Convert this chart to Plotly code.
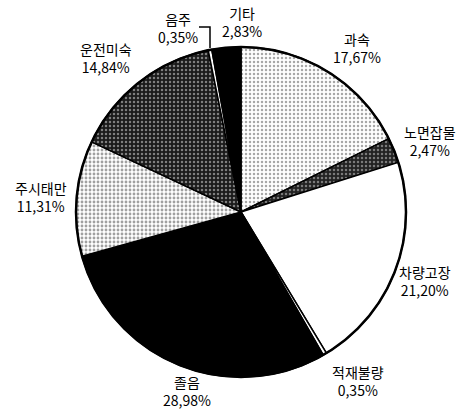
import plotly.graph_objects as go

W, H = 464, 413

categories = ["과속", "노면잡물", "차량고장", "적재불량", "졸음", "주시태만", "운전미숙", "음주", "기타"]
values = [17.67, 2.47, 21.20, 0.35, 28.98, 11.31, 14.84, 0.35, 2.83]

# styling per slice
bg_colors = ["#ffffff", "#222222", "#ffffff", "#ffffff", "#000000", "#ffffff", "#1a1a1a", "#ffffff", "#000000"]
fg_colors = ["#a8a8a8", "#7a7a7a", "#ffffff", "#ffffff", "#000000", "#a0a0a0", "#7e7e7e", "#ffffff", "#000000"]
shapes = [".", ".", "", "", "", ".", ".", "", ""]
solidity = [0.3, 0.3, 0.2, 0.2, 0.2, 0.4, 0.3, 0.2, 0.2]

# label block centres (pixels)
label_pos = {
    "과속": (357, 48),
    "노면잡물": (430, 141),
    "차량고장": (425, 281),
    "적재불량": (358, 381),
    "졸음": (187, 391),
    "주시태만": (41, 197),
    "운전미숙": (106, 58),
    "음주": (178, 28),
    "기타": (242, 22),
}

def px(x):
    return x / W

def py(y):
    return 1 - y / H

cx, cy, r = 241, 212, 165

fig = go.Figure(go.Pie(
    labels=categories,
    values=values,
    sort=False,
    direction="clockwise",
    rotation=0,
    textinfo="none",
    hoverinfo="label+percent",
    showlegend=False,
    marker=dict(
        colors=bg_colors,
        line=dict(color="#000000", width=1.5),
        pattern=dict(shape=shapes, fgcolor=fg_colors, bgcolor=bg_colors,
                     size=4, solidity=solidity, fillmode="replace"),
    ),
    domain=dict(x=[px(cx - r), px(cx + r)], y=[py(cy + r), py(cy - r)]),
))

annotations = []
for c, v in zip(categories, values):
    x, y = label_pos[c]
    txt = f"{c}<br>{v:.2f}%".replace(".", ",")
    annotations.append(dict(
        x=px(x), y=py(y), xref="paper", yref="paper",
        text=txt, showarrow=False, xanchor="center", yanchor="middle",
        font=dict(family="Noto Sans CJK KR", size=14, color="#000000"),
    ))

shapes_list = [
    dict(type="path", xref="paper", yref="paper",
         path=f"M {px(199)} {py(27)} L {px(210)} {py(27)} L {px(210)} {py(48)}",
         line=dict(color="#000000", width=1.5)),
    dict(type="circle", xref="paper", yref="paper",
         x0=px(cx - r), x1=px(cx + r), y0=py(cy + r), y1=py(cy - r),
         line=dict(color="#000000", width=2.5)),
]

fig.update_layout(
    width=W, height=H,
    margin=dict(l=0, r=0, t=0, b=0),
    paper_bgcolor="#ffffff",
    plot_bgcolor="#ffffff",
    annotations=annotations,
    shapes=shapes_list,
)

fig.write_html("out.html", config={"displayModeBar": False},
               post_script="document.body.style.margin='0';document.body.style.overflow='hidden';")
